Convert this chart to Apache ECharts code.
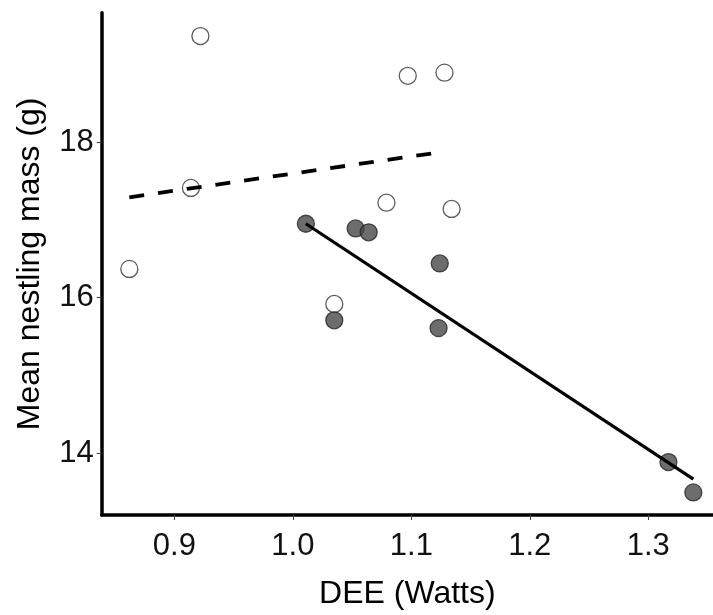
<!DOCTYPE html>
<html>
<head>
<meta charset="utf-8">
<title>Mean nestling mass vs DEE</title>
<script src="https://cdn.jsdelivr.net/npm/echarts@6/dist/echarts.min.js"></script>
<style>
	html, body { margin: 0; padding: 0; background: #fff; }
	#chart { width: 713px; height: 615px; }
</style>
</head>
<body>
<div id="chart"></div>
<script>
// open circles
var openX = [0.922, 0.862, 0.914, 1.097, 1.128, 1.079, 1.134, 1.035];
var openY = [19.36, 16.37, 17.41, 18.85, 18.89, 17.22, 17.14, 15.92];
// filled circles
var filledX = [1.011, 1.053, 1.064, 1.124, 1.035, 1.123, 1.317, 1.338];
var filledY = [16.95, 16.89, 16.84, 16.44, 15.71, 15.61, 13.89, 13.50];
// fitted lines (end points)
var dashX = [0.862, 1.125];
var dashY = [17.29, 17.87];
var solidX = [1.011, 1.338];
var solidY = [16.95, 13.67];
// ticks
var xTicks = [0.9, 1.0, 1.1, 1.2, 1.3];
var yTicks = [14, 16, 18];

function pairs(xs, ys) {
	var out = [];
	for (var i = 0; i < xs.length; i++) out.push([xs[i], ys[i]]);
	return out;
}

var font = '"Liberation Sans", Arial, sans-serif';

var option = {
	animation: false,
	grid: {
		left: 101.7,
		right: 0,
		top: 12.7,
		bottom: 96.5
	},
	xAxis: {
		type: 'value',
		min: 0.8387,
		max: 1.3546,
		name: 'DEE (Watts)',
		nameLocation: 'middle',
		nameGap: 63,
		nameTextStyle: { fontSize: 32, color: '#000', fontFamily: font },
		axisLine: { show: true, onZero: false, lineStyle: { color: '#000', width: 3.5 } },
		axisTick: { show: true, length: 5, customValues: xTicks, lineStyle: { color: '#444', width: 1 } },
		axisLabel: {
			customValues: xTicks,
			margin: 16,
			fontSize: 31,
			color: '#111',
			fontFamily: font,
			formatter: function(v) { return v.toFixed(1); }
		},
		splitLine: { show: false }
	},
	yAxis: {
		type: 'value',
		min: 13.21,
		max: 19.66,
		name: 'Mean nestling mass (g)',
		nameLocation: 'middle',
		nameGap: 56,
		nameTextStyle: { fontSize: 32, color: '#000', fontFamily: font },
		axisLine: { show: true, onZero: false, lineStyle: { color: '#000', width: 3.5 } },
		axisTick: { show: true, length: 5, customValues: yTicks, lineStyle: { color: '#444', width: 1 } },
		axisLabel: {
			customValues: yTicks,
			margin: 8,
			fontSize: 31,
			color: '#111',
			fontFamily: font
		},
		splitLine: { show: false }
	},
	series: [{
		type: 'scatter',
		symbol: 'circle',
		symbolSize: 17,
		itemStyle: { color: '#fff', borderColor: '#333', borderWidth: 1.3 },
		data: pairs(openX, openY)
	}, {
		type: 'scatter',
		symbol: 'circle',
		symbolSize: 17,
		itemStyle: { color: '#484848', borderColor: '#262626', borderWidth: 1.3 },
		data: pairs(filledX, filledY)
	}, {
		type: 'line',
		symbol: 'none',
		z: 5,
		lineStyle: { color: '#000', width: 3.8, type: [15, 14] },
		data: pairs(dashX, dashY)
	}, {
		type: 'line',
		symbol: 'none',
		z: 5,
		lineStyle: { color: '#000', width: 3.2 },
		data: pairs(solidX, solidY)
	}]
};

echarts.init(document.getElementById('chart')).setOption(option);
</script>
</body>
</html>
